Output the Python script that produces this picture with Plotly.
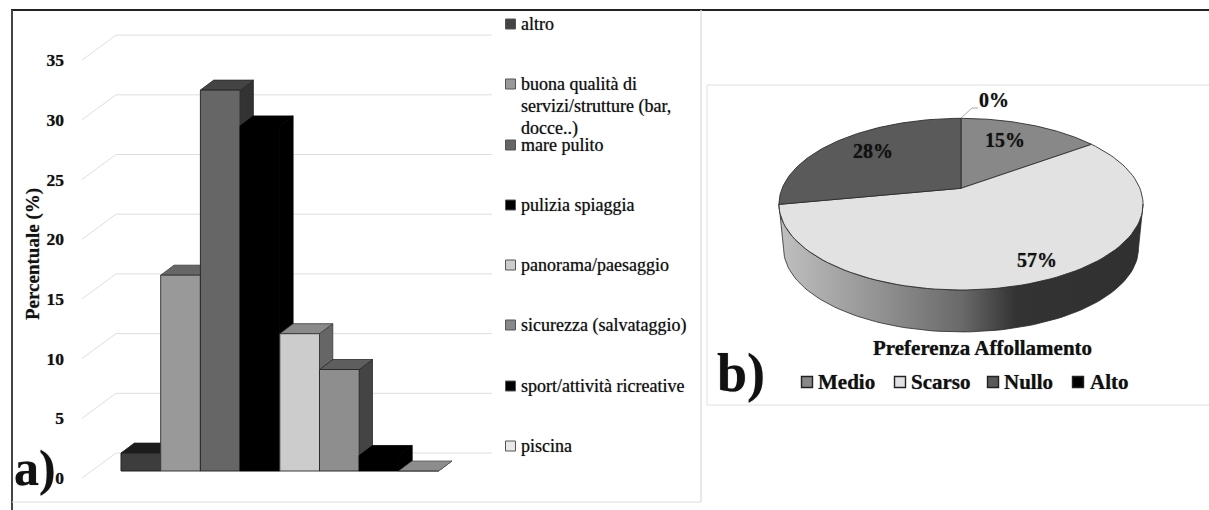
import numpy as np
import plotly.graph_objects as go

# ---------- data ----------
categories = ["altro", "buona qualità di|servizi/strutture (bar,|docce..)", "mare pulito", "pulizia spiaggia",
              "panorama/paesaggio", "sicurezza (salvataggio)", "sport/attività ricreative", "piscina"]
bar_values = [1.5, 16.4, 31.9, 28.9, 11.5, 8.5, 1.3, 0.0]
y_ticks = [0, 5, 10, 15, 20, 25, 30, 35]
pie_labels = ["Medio", "Scarso", "Nullo", "Alto"]
pie_values = [15, 57, 28, 0]

# ---------- style ----------
FONT = "Liberation Serif"
SOFT = "0 0 1px rgba(0,0,0,0.55)"
front_colors = ["#3d3d3d", "#999999", "#666666", "#000000", "#cccccc", "#8e8e8e", "#000000", "#e6e6e6"]
top_colors = ["#1c1c1c", "#666666", "#444444", "#000000", "#8a8a8a", "#5e5e5e", "#000000", "#8c8c8c"]
side_colors = ["#1c1c1c", "#555555", "#333333", "#000000", "#666666", "#444444", "#000000", "#777777"]
edge_colors = ["#222222", "#3a3a3a", "#2a2a2a", "#000000", "#3a3a3a", "#2a2a2a", "#000000", "#555555"]
legend_colors = ["#444444", "#999999", "#666666", "#000000", "#cccccc", "#888888", "#000000", "#e8e8e8"]
pie_colors = ["#888888", "#e2e2e2", "#5a5a5a", "#000000"]
W, H = 1209, 510

# bar-chart scale: pixels per unit on each axis
PXX, PXY = 39.7, 11.94
PL, PR, PT, PB = 82, 492, 30, 478
x_range = [(PL - 121) / PXX - 0.5, (PR - 121) / PXX - 0.5]
y_range = [0, (PB - PT) / PXY]
base = 7 / PXY
ddx, ddy = 13.3 / PXX, 10 / PXY
wall_dx, wall_dy = 34 / PXX, 25 / PXY

fig = go.Figure()

# gridlines on floor edge and back wall (base subplot)
gx, gy = [], []
for t in y_ticks:
    gx += [x_range[0], x_range[0] + wall_dx, x_range[1], None]
    gy += [t, t + wall_dy, t + wall_dy, None]
fig.add_trace(go.Scatter(x=gx, y=gy, mode="lines", line=dict(color="#dedede", width=1),
                         hoverinfo="skip", showlegend=False))

# depth faces of each bar, left to right
for i, v in enumerate(bar_values):
    l, r = i - 0.5, i + 0.5
    top = base + v
    fig.add_trace(go.Scatter(x=[r, r + ddx, r + ddx, r, r], y=[base, base + ddy, top + ddy, top, base],
                             mode="lines", fill="toself", fillcolor=side_colors[i],
                             line=dict(color=edge_colors[i], width=0.8), hoverinfo="skip", showlegend=False))
    fig.add_trace(go.Scatter(x=[l, l + ddx, r + ddx, r, l], y=[top, top + ddy, top + ddy, top, top],
                             mode="lines", fill="toself", fillcolor=top_colors[i],
                             line=dict(color=edge_colors[i], width=0.8), hoverinfo="skip", showlegend=False))

# front faces
fig.add_trace(go.Bar(x=list(range(len(bar_values))), y=bar_values, base=base, width=1,
                     marker=dict(color=front_colors, line=dict(color=edge_colors, width=1)),
                     xaxis="x3", yaxis="y3", showlegend=False,
                     hovertext=[c.replace("|", " ") for c in categories], hoverinfo="text+y"))

# ---------- pie (perspective-tilted disc) ----------
CX, CY, A, B, K = 961, 188.3, 178.9, 82.9, 0.1847
DEPTH_CY, DEPTH_S = 232.8, 0.975


def rim(theta, cy=CY, s=1.0):
    t = np.radians(theta)
    u, v = np.sin(t), np.cos(t)
    w = 1 + K * v
    return CX + s * A * u / w, cy - s * B * v / w


tan_r = np.degrees(np.arccos(-K))
tan_l = 360 - tan_r
ths = np.linspace(tan_r, tan_l, 90)
x_up, y_up = rim(ths)
x_lo, y_lo = rim(ths, DEPTH_CY, DEPTH_S)
fig.add_trace(go.Scatter(
    x=np.r_[x_up, x_lo[::-1], x_up[0]], y=np.r_[y_up, y_lo[::-1], y_up[0]], mode="lines", fill="toself",
    fillgradient=dict(type="horizontal",
                      colorscale=[[0, "#c0c0c0"], [0.3, "#8e8e8e"], [0.5, "#6a6a6a"], [0.65, "#333333"], [1, "#303030"]]),
    line=dict(color="#2a2a2a", width=0.8), xaxis="x2", yaxis="y2", hoverinfo="skip", showlegend=False))

total = sum(pie_values)
start = 0.0
for lab, val, col in zip(pie_labels, pie_values, pie_colors):
    span = 360 * val / total
    if val > 0:
        th = np.linspace(start, start + span, 100)
        x, y = rim(th)
        fig.add_trace(go.Scatter(x=np.r_[CX, x, CX], y=np.r_[CY, y, CY], mode="lines", fill="toself",
                                 fillcolor=col, line=dict(color="#2e2e2e", width=0.9),
                                 xaxis="x2", yaxis="y2", name=lab, hoverinfo="name", showlegend=False))
    start += span

# leader line for 0 %
fig.add_trace(go.Scatter(x=[961, 972, 978], y=[118, 108, 108], mode="lines", line=dict(color="#aaaaaa", width=1),
                         xaxis="x2", yaxis="y2", hoverinfo="skip", showlegend=False))

# legend swatches
left_rows = [24, 84, 145, 205, 265, 325, 386, 446]
LINE_GAP = 22
fig.add_trace(go.Scatter(x=[510.5] * len(categories), y=left_rows, mode="markers",
                         marker=dict(symbol="square", size=10, color=legend_colors, line=dict(color="#555555", width=1)),
                         xaxis="x2", yaxis="y2", hoverinfo="skip", showlegend=False))
pie_leg_sq = [807, 900, 993, 1078]
pie_leg_tx = [816, 909, 1002, 1088]
fig.add_trace(go.Scatter(x=pie_leg_sq, y=[382] * 4, mode="markers",
                         marker=dict(symbol="square", size=11, color=pie_colors, line=dict(color="#222222", width=1.4)),
                         xaxis="x2", yaxis="y2", hoverinfo="skip", showlegend=False))

ann = []


def text(s, x, y, size, weight="normal", xanchor="center", yanchor="middle", shadow=SOFT, **kw):
    ann.append(dict(text=s, x=x, y=y, xref="x2", yref="y2", showarrow=False, xanchor=xanchor, yanchor=yanchor,
                    font=dict(family=FONT, size=size, color="#111111", weight=weight, shadow=shadow), **kw))


for c, r in zip(categories, left_rows):
    for n, part in enumerate(c.split("|")):
        text(part, 519, r + n * LINE_GAP, 18, xanchor="left")
for v, x, y in zip(pie_values, [1005, 1037, 873, 994], [140, 260, 151, 100]):
    text(f"{v}%", x, y, 20, "bold")
for s, x in zip(pie_labels, pie_leg_tx):
    text(s, x, 382, 21, "bold", xanchor="left")
text("Preferenza Affollamento", 982, 348, 21, "bold")
text("a)", 35, 468, 50, "bold")
text("b)", 741, 373, 54, "bold")


def hline(x0, x1, y, c, w):
    return dict(type="line", xref="x2", yref="y2", x0=x0, x1=x1, y0=y, y1=y, line=dict(color=c, width=w), layer="below")


def vline(x, y0, y1, c, w):
    return dict(type="line", xref="x2", yref="y2", x0=x, x1=x, y0=y0, y1=y1, line=dict(color=c, width=w), layer="below")


shapes = [
    hline(11, W, 10, "#222222", 2), vline(12, 10, H, "#444444", 2),
    hline(12, 701, 502, "#dddddd", 1), vline(701, 10, 502, "#e0e0e0", 1.5),
    hline(707, W, 85, "#e0e0e0", 1), hline(707, W, 405, "#e0e0e0", 1), vline(707, 85, 405, "#e0e0e0", 1),
]

dom_x = [PL / W, PR / W]
dom_y = [(H - PB) / H, (H - PT) / H]
fig.update_layout(
    width=W, height=H, margin=dict(l=0, r=0, t=0, b=0), autosize=False,
    paper_bgcolor="white", plot_bgcolor="rgba(0,0,0,0)", showlegend=False, barmode="overlay",
    annotations=ann, shapes=shapes,
    xaxis=dict(domain=dom_x, range=x_range, visible=False, fixedrange=True),
    yaxis=dict(domain=dom_y, range=y_range, tickmode="array", tickvals=y_ticks, ticks="", showgrid=False, zeroline=False,
               showline=False, ticklabelstandoff=17,
               tickfont=dict(family=FONT, size=17.5, color="#111111", weight="bold", shadow=SOFT),
               title=dict(text="Percentuale (%)", standoff=1,
                          font=dict(family=FONT, size=19, color="#111111", weight="bold", shadow=SOFT)),
               automargin=False, fixedrange=True),
    xaxis3=dict(domain=dom_x, range=x_range, visible=False, overlaying="x", fixedrange=True),
    yaxis3=dict(domain=dom_y, range=y_range, visible=False, overlaying="y", fixedrange=True),
    xaxis2=dict(domain=[0, 1], range=[0, W], visible=False, anchor="y2", fixedrange=True),
    yaxis2=dict(domain=[0, 1], range=[H, 0], visible=False, anchor="x2", fixedrange=True),
)
fig.write_html("out.html", config={"displayModeBar": False},
               post_script="document.body.style.margin='0';document.documentElement.style.overflow='hidden';")
